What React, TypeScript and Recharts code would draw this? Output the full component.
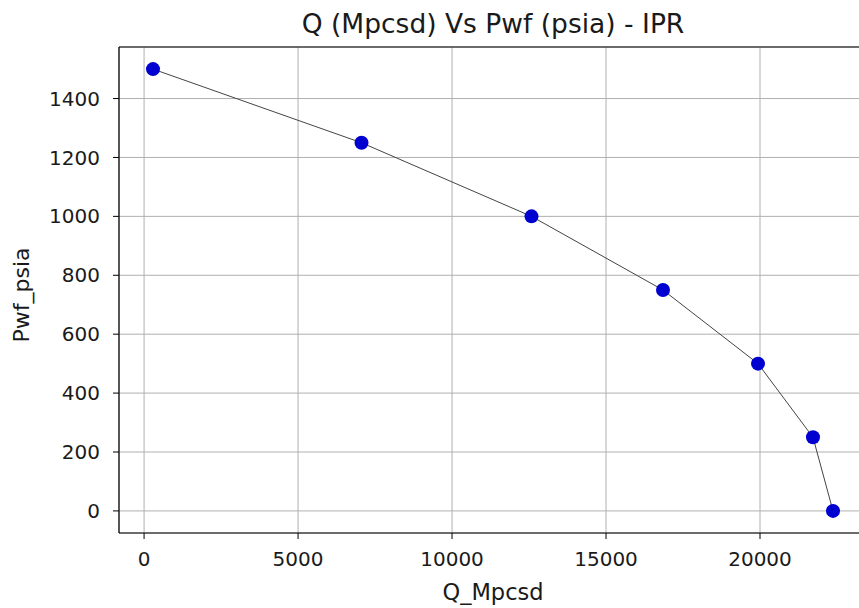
import React from 'react';
import { LineChart, Line, XAxis, YAxis, CartesianGrid, ReferenceLine, Label } from 'recharts';

const qMpcsd = [290, 7060, 12580, 16850, 19935, 21720, 22370];
const pwfPsia = [1500, 1250, 1000, 750, 500, 250, 0];
const xTicks = [0, 5000, 10000, 15000, 20000];
const yTicks = [0, 200, 400, 600, 800, 1000, 1200, 1400];

const data = qMpcsd.map((q, i) => ({ q, p: pwfPsia[i] }));

const FONT = 'DejaVu Sans, sans-serif';
const TEXT = '#1a1a1a';
const XMIN = -814;
const XMAX = 23474;
const YMIN = -75;
const YMAX = 1575;

const XLabel = (props: any) => {
  const vb = props.viewBox || { x: 119, y: 533, width: 748, height: 75 };
  return (
    <text x={493} y={vb.y + 67} textAnchor="middle" fill={TEXT} fontFamily={FONT} fontSize={22.5}>
      Q_Mpcsd
    </text>
  );
};

const YLabel = (props: any) => {
  const vb = props.viewBox || { x: 0, y: 47, width: 119, height: 486 };
  const cx = 29;
  const cy = vb.y + vb.height / 2 + 5;
  return (
    <text x={cx} y={cy} textAnchor="middle" transform={`rotate(-90, ${cx}, ${cy})`} fill={TEXT} fontFamily={FONT} fontSize={22}>
      Pwf_psia
    </text>
  );
};

export default function App() {
  return (
    <div style={{ position: 'fixed', left: 0, top: 0, width: 859, height: 608, overflow: 'hidden', background: '#fff' }}>
      <div
        style={{
          position: 'absolute',
          left: 119,
          width: 748,
          top: 8,
          textAlign: 'center',
          fontFamily: FONT,
          fontSize: 26.5,
          lineHeight: 'normal',
          color: TEXT,
          whiteSpace: 'nowrap',
        }}
      >
        Q (Mpcsd) Vs Pwf (psia) - IPR
      </div>
      <div style={{ position: 'absolute', left: 0, top: 0, width: 880, height: 608 }}>
        <LineChart width={880} height={608} data={data} margin={{ top: 47, right: 13, bottom: 0, left: 0 }}>
          <CartesianGrid stroke="#b0b0b0" strokeWidth={1} />
          <XAxis
            type="number"
            dataKey="q"
            domain={[XMIN, XMAX]}
            ticks={xTicks}
            allowDataOverflow
            height={75}
            tickSize={6}
            tickLine={{ stroke: '#000' }}
            axisLine={{ stroke: '#000', strokeWidth: 1.2 }}
            tick={{ fill: TEXT, fontFamily: FONT, fontSize: 20 }}
            tickMargin={13}
          >
            <Label content={XLabel} />
          </XAxis>
          <YAxis
            type="number"
            dataKey="p"
            domain={[YMIN, YMAX]}
            ticks={yTicks}
            allowDataOverflow
            width={119}
            tickSize={6}
            tickLine={{ stroke: '#000' }}
            axisLine={{ stroke: '#000', strokeWidth: 1.2 }}
            tick={{ fill: TEXT, fontFamily: FONT, fontSize: 20 }}
            tickMargin={13}
          >
            <Label content={YLabel} />
          </YAxis>
          <ReferenceLine y={YMAX} stroke="#000" strokeWidth={1.2} />
          <ReferenceLine x={XMAX} stroke="#000" strokeWidth={1.2} />
          <Line
            type="linear"
            dataKey="p"
            stroke="#444"
            strokeWidth={1}
            isAnimationActive={false}
            dot={{ r: 7, fill: '#0000d0', stroke: '#0000d0', strokeWidth: 0 }}
            activeDot={false}
          />
        </LineChart>
      </div>
    </div>
  );
}
